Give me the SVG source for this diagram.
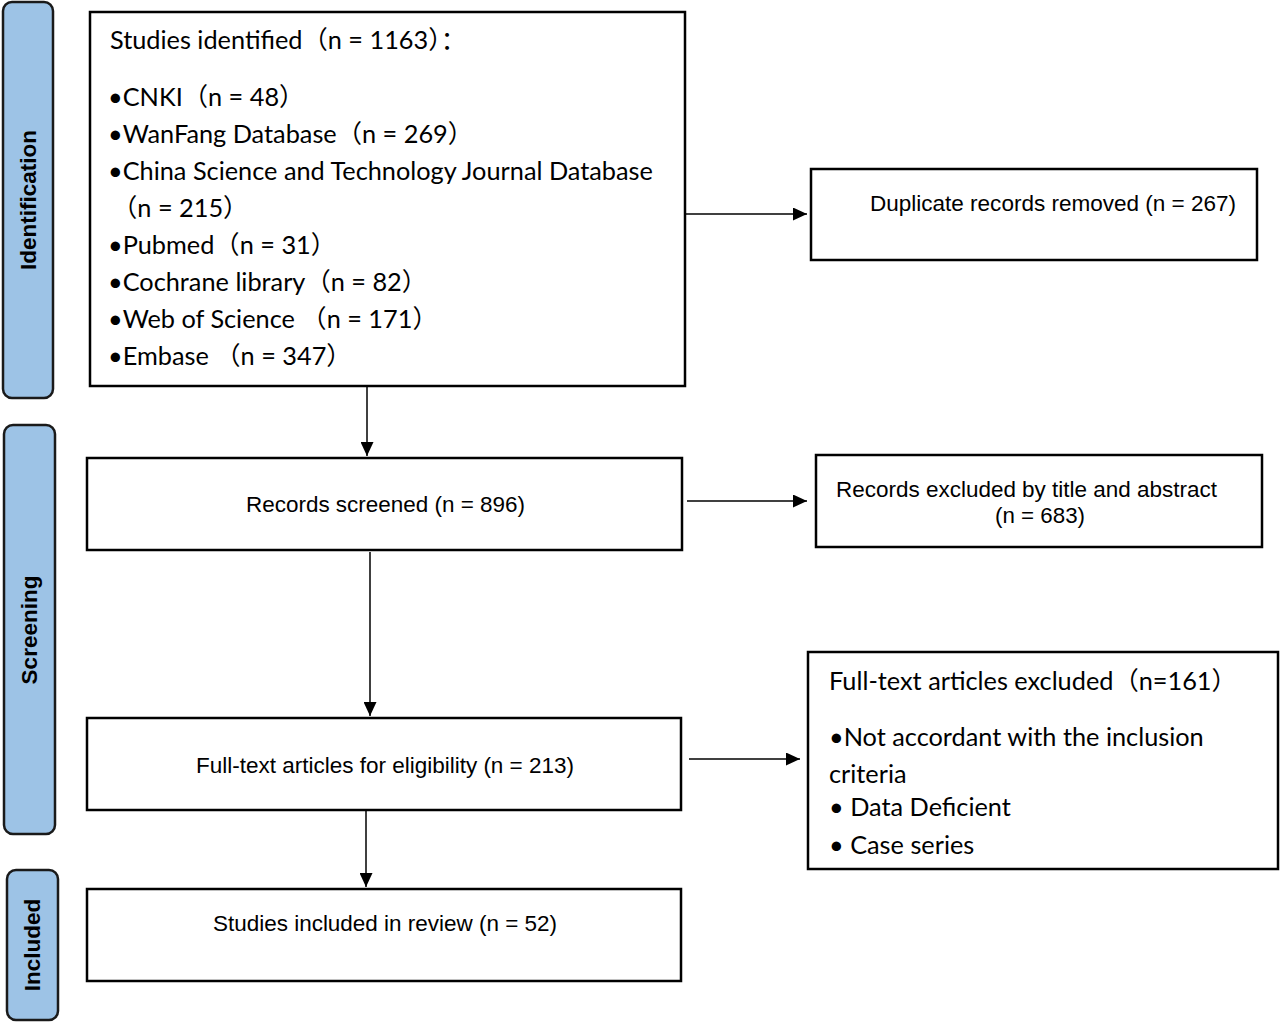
<svg xmlns="http://www.w3.org/2000/svg" width="1280" height="1022" viewBox="0 0 1280 1022">
<defs>
<marker id="ah" markerWidth="14" markerHeight="13" refX="14" refY="6.5" orient="auto" markerUnits="userSpaceOnUse" viewBox="0 0 14 13">
<path d="M0,0 L14,6.5 L0,13 z" fill="#000"/>
</marker>
<style>
.bar{fill:#9dc3e6;stroke:#1a1a1a;stroke-width:2.5}
.box{fill:#fff;stroke:#000;stroke-width:2.5}
.lbl{font-family:"Liberation Sans",Arial,sans-serif;font-weight:bold;font-size:22.5px;fill:#000}
.ar{font-family:"Liberation Sans",Arial,sans-serif;font-size:22px;fill:#000}
.cal{font-family:Lato,"Noto Sans CJK SC",sans-serif;font-size:25.3px;fill:#000}
.con{stroke:#000;stroke-width:1.5;fill:none}
</style>
</defs>
<rect width="1280" height="1022" fill="#fff"/>

<g id="stage-identification">
<rect class="bar" x="3" y="2" width="50" height="396" rx="9"/>
<text class="lbl" transform="translate(36,200) rotate(-90)" text-anchor="middle">Identification</text>
</g>
<g id="stage-screening">
<rect class="bar" x="4" y="425" width="51" height="409" rx="9"/>
<text class="lbl" transform="translate(37,630) rotate(-90)" text-anchor="middle">Screening</text>
</g>
<g id="stage-included">
<rect class="bar" x="7" y="870" width="51" height="150" rx="9"/>
<text class="lbl" transform="translate(40,945) rotate(-90)" text-anchor="middle">Included</text>
</g>

<g id="identified">
<rect class="box" x="90" y="12" width="595" height="374"/>
<text class="cal" x="110" y="49">Studies identified（n = 1163）：</text>
<text class="cal" x="108" y="106">•CNKI（n = 48）</text>
<text class="cal" x="108" y="143">•WanFang Database（n = 269）</text>
<text class="cal" x="108" y="180">•China Science and Technology Journal Database</text>
<text class="cal" x="112" y="217">（n = 215）</text>
<text class="cal" x="108" y="254">•Pubmed（n = 31）</text>
<text class="cal" x="108" y="291">•Cochrane library（n = 82）</text>
<text class="cal" x="108" y="328">•Web of Science （n = 171）</text>
<text class="cal" x="108" y="365">•Embase （n = 347）</text>
</g>

<g id="duplicates">
<rect class="box" x="811" y="169" width="446" height="91"/>
<text class="ar" x="870" y="211" textLength="366" lengthAdjust="spacingAndGlyphs">Duplicate records removed (n = 267)</text>
</g>

<g id="screened">
<rect class="box" x="87" y="458" width="595" height="92"/>
<text class="ar" x="246" y="512" textLength="279" lengthAdjust="spacingAndGlyphs">Records screened (n = 896)</text>
</g>

<g id="excluded-title">
<rect class="box" x="816" y="455" width="446" height="92"/>
<text class="ar" x="836" y="497" textLength="381" lengthAdjust="spacingAndGlyphs">Records excluded by title and abstract</text>
<text class="ar" x="995" y="523" textLength="90" lengthAdjust="spacingAndGlyphs">(n = 683)</text>
</g>

<g id="fulltext">
<rect class="box" x="87" y="718" width="594" height="92"/>
<text class="ar" x="196" y="773" textLength="378" lengthAdjust="spacingAndGlyphs">Full-text articles for eligibility (n = 213)</text>
</g>

<g id="fulltext-excluded">
<rect class="box" x="808" y="652" width="470" height="217"/>
<text class="cal" x="829" y="690">Full-text articles excluded（n=161）</text>
<text class="cal" x="829" y="746">•Not accordant with the inclusion</text>
<text class="cal" x="829" y="783">criteria</text>
<text class="cal" x="829" y="816">• Data Deficient</text>
<text class="cal" x="829" y="854">• Case series</text>
</g>

<g id="included">
<rect class="box" x="87" y="889" width="594" height="92"/>
<text class="ar" x="213" y="931" textLength="344" lengthAdjust="spacingAndGlyphs">Studies included in review (n = 52)</text>
</g>

<g id="connectors">
<line class="con" x1="686" y1="214" x2="807" y2="214" marker-end="url(#ah)"/>
<line class="con" x1="367" y1="386" x2="367" y2="456" marker-end="url(#ah)"/>
<line class="con" x1="687" y1="501" x2="807" y2="501" marker-end="url(#ah)"/>
<line class="con" x1="370" y1="552" x2="370" y2="716" marker-end="url(#ah)"/>
<line class="con" x1="689" y1="759" x2="800" y2="759" marker-end="url(#ah)"/>
<line class="con" x1="366" y1="811" x2="366" y2="887" marker-end="url(#ah)"/>
</g>
</svg>
